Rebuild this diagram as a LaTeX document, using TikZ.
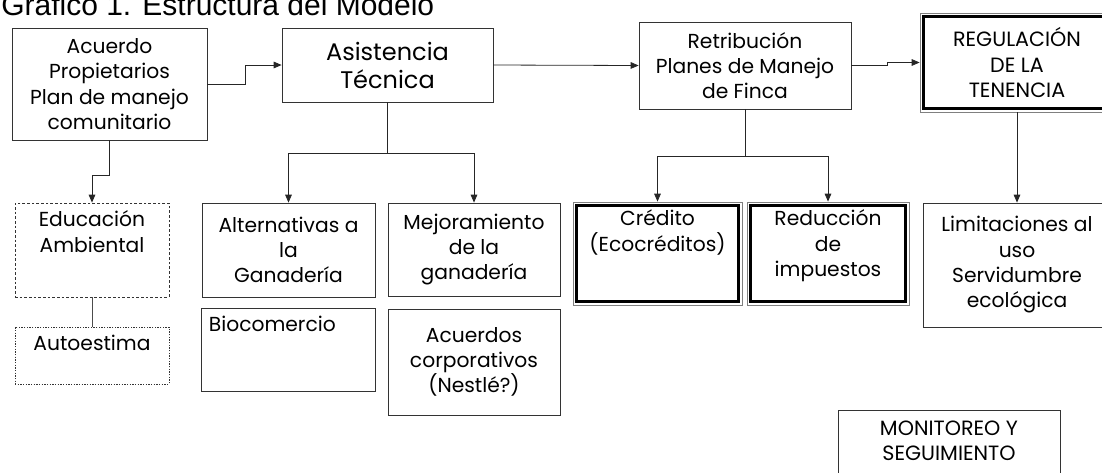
\documentclass[tikz,border=0pt]{standalone}
\usepackage{fontspec}
\setmainfont{Poppins}
\newfontfamily\arial{Liberation Sans}
\usetikzlibrary{arrows.meta}

\def\px{0.75pt}

\begin{document}
\begin{tikzpicture}[x=0.75pt,y=-0.75pt,
    caja/.style={draw=black!80,line width=0.6pt,inner sep=0pt,align=center,
      font=\fontsize{15.2}{19}\selectfont},
    mayus/.style={font=\fontsize{15.5}{19}\selectfont},
    arriba/.style={anchor=north,align=center,inner sep=0pt,yshift=-6pt,
      font=\fontsize{15.2}{19}\selectfont},
    flecha/.style={draw=black!85,line width=0.6pt,-{Triangle[length=6pt,width=5pt]}},
    linea/.style={draw=black!70,line width=0.6pt}]
  \useasboundingbox (0,0) rectangle (1102,472);

  % titulo
  \node[anchor=base west,inner sep=0pt,font=\arial\fontsize{22.5}{26}\selectfont] (titulo) at (1,15) {Gráfico 1. Estructura del Modelo};

  % fila de arriba
  \node[caja,minimum width=195*\px,minimum height=112*\px] (acuerdo) at (109.5,84) {Acuerdo\\Propietarios\\Plan de manejo\\comunitario};
  \node[caja,minimum width=211*\px,minimum height=74*\px,font=\fontsize{18}{21}\selectfont] (asist) at (387.5,65) {Asistencia\\Técnica};
  \node[caja,minimum width=212*\px,minimum height=87*\px] (retrib) at (745,65.5) {Retribución\\Planes de Manejo\\de Finca};
  \node[caja,mayus,minimum width=194*\px,minimum height=99*\px,draw=gray] (reg) at (1017,62.5) {REGULACIÓN\\DE LA\\TENENCIA};

  % fila de abajo
  \node[caja,dashed,dash pattern=on 2pt off 1.5pt,minimum width=154*\px,minimum height=94*\px,
    label={[arriba]north:{Educación\\Ambiental}}] (edu) at (92,250) {};
  \node[caja,dash pattern=on 1pt off 1pt,minimum width=154*\px,minimum height=57*\px,
    label={[arriba]north:{Autoestima}}] (auto) at (92,355.5) {};
  \node[caja,minimum width=173*\px,minimum height=94*\px] (alt) at (288.5,250) {Alternativas a\\la\\Ganadería};
  \node[caja,minimum width=174*\px,minimum height=83*\px,
    label={[arriba,anchor=north west,xshift=6pt]north west:{Biocomercio}}] (bio) at (288,349.5) {};
  \node[caja,minimum width=172*\px,minimum height=93*\px] (mejor) at (474,249.5) {Mejoramiento\\de la\\ganadería};
  \node[caja,minimum width=172*\px,minimum height=106*\px] (corp) at (474,362) {Acuerdos\\corporativos\\(Nestlé?)};
  \node[caja,draw=gray,minimum width=169*\px,minimum height=103*\px,
    label={[arriba]north:{Crédito\\(Ecocréditos)}}] (cred) at (657.5,253.5) {};
  \node[caja,draw=gray,minimum width=162*\px,minimum height=103*\px,
    label={[arriba]north:{Reducción\\de\\impuestos}}] (reduc) at (828,253.5) {};
  \node[caja,minimum width=188*\px,minimum height=124*\px] (lim) at (1017,265) {Limitaciones al\\uso\\Servidumbre\\ecológica};
  \node[caja,minimum width=222*\px,minimum height=80*\px,
    label={[arriba,mayus,yshift=-2pt]north:{MONITOREO Y\\SEGUIMIENTO}}] (monit) at (949,450) {};

  % marcos gruesos
  \foreach \n in {reg,cred,reduc}
    \draw[line width=2.2pt] ([xshift=3pt,yshift=-3pt]\n.north west) rectangle ([xshift=-3pt,yshift=3pt]\n.south east);

  % conectores
  \draw[flecha] (acuerdo.east) -- ++(38,0) |- (asist.west);
  \draw[flecha] (acuerdo.south) -- ++(0,35) -| (edu.north);
  \draw[linea] (edu.south) -- (auto.north);
  \draw[flecha] (asist.south) -- ++(0,51) coordinate (ramaA) -| (alt.north);
  \draw[flecha] (ramaA) -| (mejor.north);
  \draw[flecha] (asist.east) -- (retrib.west);
  \draw[flecha] (retrib.south) -- ++(0,47) coordinate (ramaB) -| (cred.north);
  \draw[flecha] (ramaB) -| (reduc.north);
  \draw[flecha] (retrib.east) -- ++(36,0) |- (reg.west);
  \draw[flecha] (reg.south) -- (lim.north);
\end{tikzpicture}
\end{document}
